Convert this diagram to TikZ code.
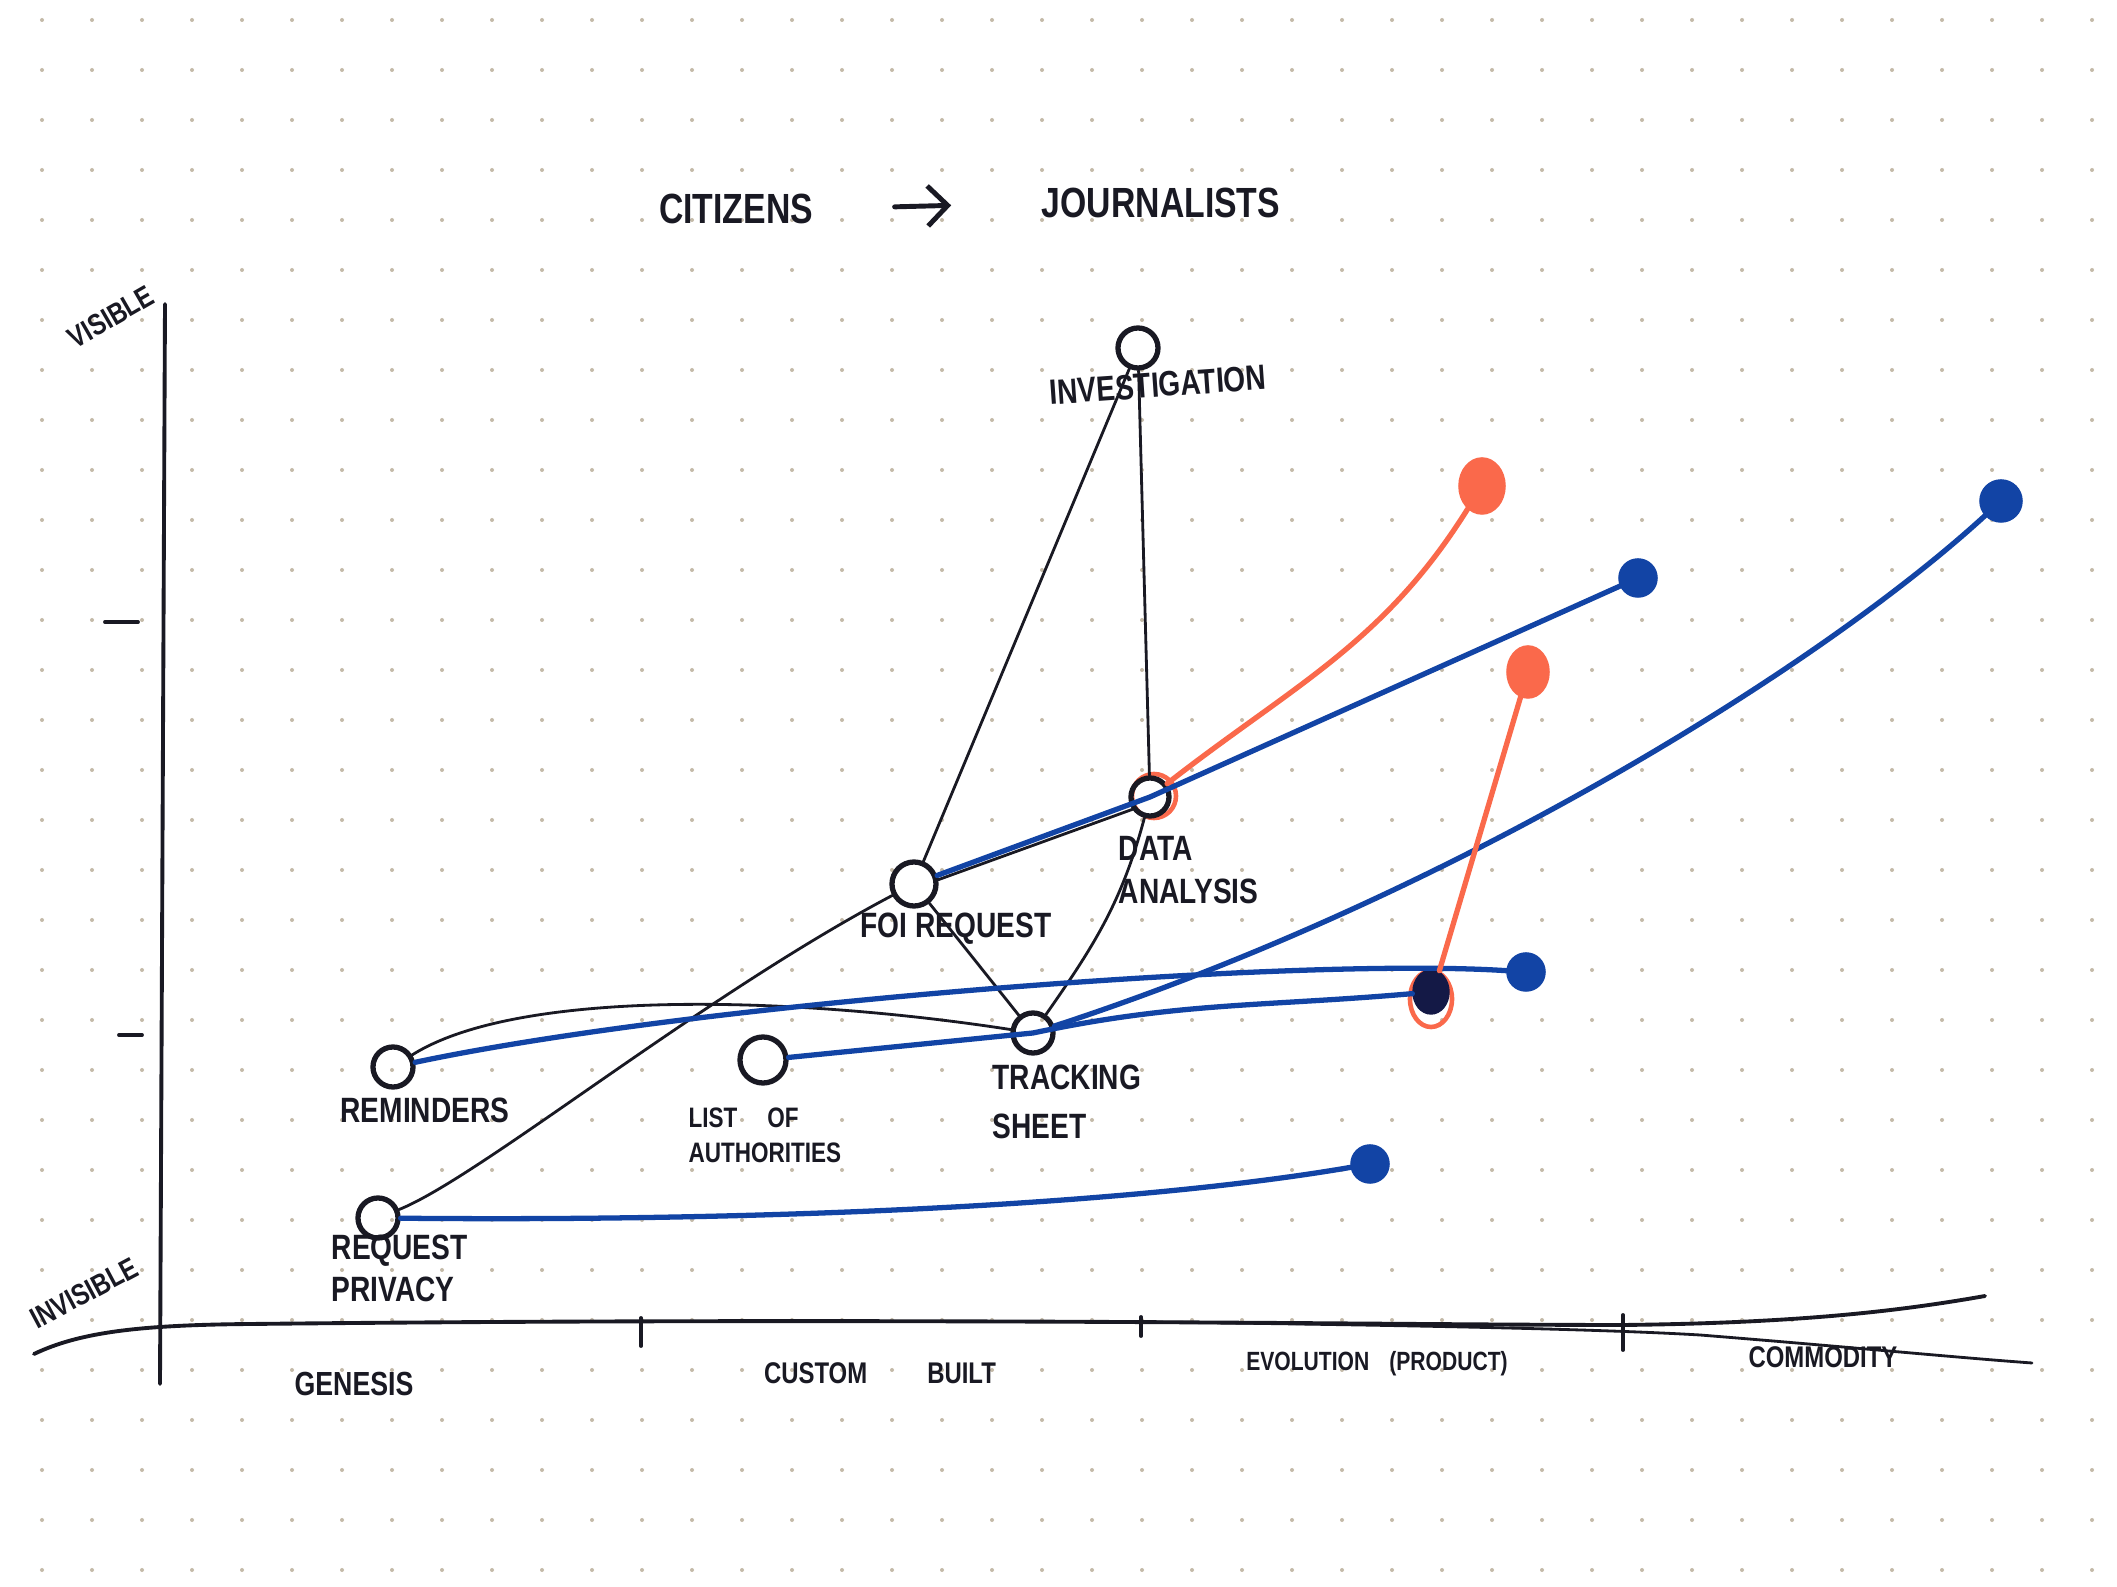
\documentclass[tikz,border=0pt]{standalone}
\usepackage{fontspec}
\usetikzlibrary{arrows.meta,shapes.geometric}
\newfontfamily\handfont{Liberation Sans Bold}[FakeStretch=0.8]
\definecolor{inkblack}{RGB}{25,25,35}
\definecolor{penblue}{RGB}{18,68,165}
\definecolor{pennavy}{RGB}{20,25,70}
\definecolor{penred}{RGB}{250,105,75}
\definecolor{dotgrey}{RGB}{196,186,168}
\begin{document}
\begin{tikzpicture}[x=0.01cm, y=0.01cm,
    ink/.style={draw=inkblack, line width=0.8pt, line cap=round},
    axisline/.style={draw=inkblack, line width=1.1pt, line cap=round},
    evo/.style={draw=penblue, line width=1.5pt, line cap=round},
    evored/.style={draw=penred, line width=1.5pt, line cap=round},
    comp/.style={circle, draw=inkblack, line width=1.5pt, minimum size=0.4cm, inner sep=0pt},
    bluedot/.style={circle, fill=penblue, draw=penblue, line width=1pt, minimum size=0.36cm, inner sep=0pt},
    reddot/.style={ellipse, fill=penred, draw=penred, line width=1pt, minimum width=0.4cm, minimum height=0.5cm, inner sep=0pt},
    lbl/.style={font=\handfont\fontsize{10}{12}\selectfont, text=inkblack, align=left, inner sep=0pt},
    axlbl/.style={font=\handfont\fontsize{8.5}{10}\selectfont, text=inkblack, inner sep=0pt},
  ]
  \useasboundingbox (0,0) rectangle (2117,1587);
  \fill[white] (0,0) rectangle (2117,1587);
  % dotted paper
  \foreach \i in {0,...,41}
    \foreach \j in {0,...,31}
      \fill[dotgrey] (42+50*\i, 17+50*\j) circle (0.2mm);

  % title
  \node[lbl, font=\handfont\fontsize{12}{14}\selectfont] (citz) at (736,1378) {CITIZENS};
  \node[lbl, font=\handfont\fontsize{12}{14}\selectfont] (jour) at (1161,1384) {JOURNALISTS};
  \draw[ink, line width=1.4pt, -{Straight Barb[length=2mm]}, shorten <=0.81cm, shorten >=0.9cm] (citz.east) -- (jour.west);

  % axes
  \draw[axisline] (165,1283) -- (160,203);
  \draw[axisline] (105,965) -- (138,965);
  \draw[axisline] (119,552) -- (142,552);
  \draw[axisline] (34,233) .. controls (80,255) and (140,262) .. (250,263)
    .. controls (900,270) and (1400,262) .. (1623,262)
    .. controls (1800,264) and (1900,276) .. (1985,291);
  \draw[axisline, line width=0.8pt] (1150,265) .. controls (1400,262) and (1600,258) .. (1700,252)
    .. controls (1850,240) and (1950,230) .. (2032,224);
  \draw[axisline] (641,241) -- (641,269);
  \draw[axisline] (1141,251) -- (1141,270);
  \draw[axisline] (1623,237) -- (1623,272);
  \node[axlbl, rotate=30] (vis) at (111,1270) {VISIBLE};
  \node[axlbl, rotate=28] (invis) at (84,294) {INVISIBLE};
  \node[axlbl, font=\handfont\fontsize{9.5}{11}\selectfont] (gen) at (354,203) {GENESIS};
  \node[axlbl] (cust) at (880,214) {CUSTOM\hspace{6mm}BUILT};
  \node[axlbl, font=\handfont\fontsize{7.5}{9}\selectfont] (prod) at (1377,223) {EVOLUTION\hspace{2mm}(PRODUCT)};
  \node[axlbl] (commod) at (1823,230) {COMMODITY};

  % components
  \node[comp] (inv) at (1138,1239) {};
  \node[circle, draw=penred, line width=1.3pt, minimum size=0.44cm] (dataring) at (1154,791) {};
  \node[comp, minimum size=0.38cm] (data) at (1150,790) {};
  \node[comp, minimum size=0.44cm] (foi) at (914,703) {};
  \node[comp] (track) at (1033,554) {};
  \node[comp] (remind) at (393,520) {};
  \node[comp, minimum size=0.46cm] (list) at (763,527) {};
  \node[comp] (priv) at (378,369) {};

  \node[lbl, rotate=4] (invlbl) at (1158,1202) {INVESTIGATION};
  \node[lbl, anchor=west] (datalbl) at (1118,717) {DATA\\ANALYSIS};
  \node[lbl] (foilbl) at (956,658) {FOI REQUEST};
  \node[lbl, anchor=west, align=left] (tracklbl) at (992,485) {TRACKING\\[2pt]SHEET};
  \node[lbl] (remindlbl) at (425,477) {REMINDERS};
  \node[lbl, anchor=west, font=\handfont\fontsize{8}{10}\selectfont] (listlbl) at (688,452) {LIST\hspace{3mm}OF\\AUTHORITIES};
  \node[lbl, anchor=west] (privlbl) at (331,319) {REQUEST\\PRIVACY};

  % evolved positions
  \node[bluedot, minimum size=0.4cm] (dotA) at (2001,1086) {};
  \node[bluedot] (dotB) at (1638,1009) {};
  \node[reddot, minimum width=0.44cm, minimum height=0.54cm] (redA) at (1482,1101) {};
  \node[reddot] (redB) at (1528,915) {};
  \node[bluedot] (dotC) at (1526,615) {};
  \node[ellipse, draw=penred, line width=1.3pt, minimum width=0.42cm, minimum height=0.56cm] (dotDring) at (1431,588) {};
  \node[ellipse, fill=pennavy, draw=pennavy, minimum width=0.36cm, minimum height=0.44cm, inner sep=0pt] (dotD) at (1431,595) {};
  \node[bluedot] (dotE) at (1370,423) {};

  % value chain
  \draw[ink] (inv) -- (foi);
  \draw[ink] (inv) -- (data);
  \draw[ink] (foi.10) -- (data.215);
  \draw[ink] (foi) -- (track);
  \draw[ink] (data) to[out=-105, in=55] (track);
  \draw[ink] (priv) .. controls (480,410) and (700,590) .. (foi);
  \draw[ink] (remind) .. controls (520,600) and (800,590) .. (track);
  \draw[ink] (list) -- (track);

  % evolution
  \draw[evo] (foi) -- (data.center) -- (dotB);
  \draw[evored] (data) to[out=38, in=238] (redA);
  \draw[evo] (track) .. controls (1450,690) and (1820,920) .. (dotA);
  \draw[evo] (remind) .. controls (700,585) and (1300,630) .. (dotC);
  \draw[evo] (list) -- (track.center) to[out=12, in=185] (dotD);
  \draw[evo] (priv) .. controls (800,365) and (1150,385) .. (dotE);
  \draw[evored] (dotDring) -- (redB);
\end{tikzpicture}
\end{document}
